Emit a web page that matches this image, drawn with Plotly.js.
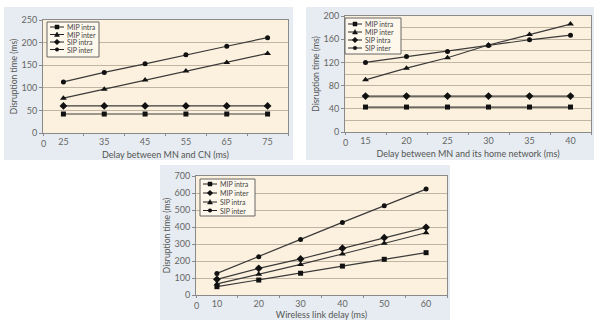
<!DOCTYPE html>
<html><head><meta charset="utf-8">
<script src="https://cdn.plot.ly/plotly-3.0.1.min.js"></script>
<style>
body{margin:0;background:#fff;width:594px;height:320px;position:relative;overflow:hidden}
.p{position:absolute}
</style></head><body>
<div id="c1" class="p" style="left:4px;top:7px;width:289px;height:153px"></div>
<div id="c2" class="p" style="left:306px;top:7px;width:288px;height:153px"></div>
<div id="c3" class="p" style="left:160px;top:165px;width:290px;height:155px"></div>
<script>
// ---- Data ----
const seriesNames = ['MIP intra', 'MIP inter', 'SIP intra', 'SIP inter'];
const yTitle = 'Disruption time (ms)';

// Chart 1: Delay between MN and CN
const delayCN = [25, 35, 45, 55, 65, 75];
const c1MipIntra = [42, 42, 42, 42, 42, 42];
const c1MipInter = [77, 97, 117, 137, 156, 176];
const c1SipIntra = [60, 60, 60, 60, 60, 60];
const c1SipInter = [113, 134, 153, 173, 192, 211];

// Chart 2: Delay between MN and its home network
const delayHome = [15, 20, 25, 30, 35, 40];
const c2MipIntra = [43, 43, 43, 43, 43, 43];
const c2MipInter = [90, 110, 128, 150, 168, 186];
const c2SipIntra = [62, 62, 62, 62, 62, 62];
const c2SipInter = [120, 130, 139, 149, 159, 167];

// Chart 3: Wireless link delay
const wirelessDelay = [10, 20, 30, 40, 50, 60];
const c3MipIntra = [49, 88, 128, 170, 210, 249];
const c3MipInter = [92, 157, 212, 275, 337, 398];
const c3SipIntra = [65, 122, 180, 241, 304, 366];
const c3SipInter = [127, 225, 327, 427, 525, 623];

const FONT = 'Lato, "Open Sans", sans-serif';
const BG = '#e6ecf1', PLOT = '#fcf1de', GRID = '#bfb5a2', AX = '#8a8a8a';

function drawPanel(id, o) {
  const W = o.w - o.m.l - o.m.r, H = o.h - o.m.t - o.m.b;
  const px = x => (x - o.m.l) / W;
  const py = y => 1 - (y - o.m.t) / H;
  const traces = o.series.map(s => ({
    type: 'scatter', mode: 'lines+markers', x: o.x, y: s.y, name: s.name,
    line: {color: '#3a3a3a', width: 1.2},
    marker: {symbol: s.symbol, size: s.size || 5, color: '#111'},
    showlegend: false, cliponaxis: false
  }));
  const shapes = [], annotations = [];
  const L = o.legend;
  shapes.push({type: 'rect', xref: 'paper', yref: 'paper', x0: px(L.x0), x1: px(L.x1),
    y0: py(L.y1), y1: py(L.y0), line: {color: '#666', width: 1}, fillcolor: '#fdf7ec', layer: 'above'});
  o.series.forEach((s, i) => {
    const yy = L.rows[i];
    shapes.push({type: 'line', xref: 'paper', yref: 'paper', x0: px(L.lx0), x1: px(L.lx1),
      y0: py(yy), y1: py(yy), line: {color: '#222', width: 1}, layer: 'above'});
    const cx = (L.lx0 + L.lx1) / 2, r = s.lr || 2;
    const base = {xref: 'paper', yref: 'paper', fillcolor: '#111', line: {color: '#111', width: 0.5}, layer: 'above'};
    if (s.symbol === 'square') {
      shapes.push(Object.assign({type: 'rect', x0: px(cx - r), x1: px(cx + r), y0: py(yy + r), y1: py(yy - r)}, base));
    } else if (s.symbol === 'circle') {
      shapes.push(Object.assign({type: 'circle', x0: px(cx - r), x1: px(cx + r), y0: py(yy + r), y1: py(yy - r)}, base));
    } else if (s.symbol === 'triangle-up') {
      shapes.push(Object.assign({type: 'path', path: `M${px(cx - r - 0.5)},${py(yy + r)} L${px(cx + r + 0.5)},${py(yy + r)} L${px(cx)},${py(yy - r - 0.5)} Z`}, base));
    } else {
      shapes.push(Object.assign({type: 'path', path: `M${px(cx - r - 0.6)},${py(yy)} L${px(cx)},${py(yy - r - 0.6)} L${px(cx + r + 0.6)},${py(yy)} L${px(cx)},${py(yy + r + 0.6)} Z`}, base));
    }
    annotations.push({xref: 'paper', yref: 'paper', x: px(L.tx), y: py(yy), xanchor: 'left', yanchor: 'middle',
      text: s.name, showarrow: false, borderpad: 0, font: {size: 7, color: '#444', family: FONT}});
  });
  // origin label "0" at the left end of the category axis
  annotations.push({xref: 'paper', yref: 'paper', x: 0, y: 0, xanchor: 'center', yanchor: 'top', yshift: -3,
    text: '0', showarrow: false, font: {size: 9, color: '#666', family: FONT}});

  const layout = {
    width: o.w, height: o.h,
    margin: o.m,
    paper_bgcolor: BG, plot_bgcolor: PLOT,
    font: {family: FONT, size: 9, color: '#666'},
    showlegend: false,
    xaxis: {
      type: 'category', range: [-0.5, o.x.length - 0.5], tickson: 'boundaries',
      ticks: 'outside', ticklen: 2, tickcolor: AX, showgrid: false,
      showline: true, linecolor: AX, linewidth: 1, mirror: true,
      tickfont: {size: 9, color: '#666'}, zeroline: false,
      title: {text: o.xTitle, font: {size: 9, color: '#555'}, standoff: o.xStandoff}
    },
    yaxis: {
      range: o.yRange, dtick: o.dtick, tick0: 0, ticks: 'outside', ticklen: 3, tickcolor: AX,
      showgrid: true, gridcolor: GRID, gridwidth: 1, zeroline: false,
      showline: true, linecolor: AX, linewidth: 1, mirror: true,
      tickfont: {size: 9, color: '#666'},
      minor: o.minor ? {dtick: o.minor, showgrid: true, gridcolor: GRID, gridwidth: 1, ticks: ''} : undefined,
      title: {text: yTitle, font: {size: 8.5, color: '#555'}, standoff: o.yStandoff}
    },
    shapes: shapes, annotations: annotations
  };
  Plotly.newPlot(id, traces, layout, {staticPlot: true, displayModeBar: false});
}

drawPanel('c1', {
  w: 289, h: 153, m: {l: 39, r: 5, t: 13, b: 27, pad: 0},
  x: delayCN, yRange: [0, 250], dtick: 50,
  xTitle: 'Delay between MN and CN (ms)', xStandoff: 5, yStandoff: 2,
  series: [
    {name: seriesNames[0], y: c1MipIntra, symbol: 'square', size: 5},
    {name: seriesNames[1], y: c1MipInter, symbol: 'triangle-up', size: 6},
    {name: seriesNames[2], y: c1SipIntra, symbol: 'diamond', size: 6, lr: 2.2},
    {name: seriesNames[3], y: c1SipInter, symbol: 'circle', size: 5, lr: 1.8}
  ],
  legend: {x0: 43, x1: 95, y0: 15, y1: 50, rows: [20, 27.5, 35, 42.5], lx0: 46, lx1: 60, tx: 62}
});

drawPanel('c2', {
  w: 288, h: 153, m: {l: 39, r: 3, t: 9, b: 28, pad: 0},
  x: delayHome, yRange: [0, 200], dtick: 40, minor: 20,
  xTitle: 'Delay between MN and its home network (ms)', xStandoff: 5, yStandoff: 2,
  series: [
    {name: seriesNames[0], y: c2MipIntra, symbol: 'square', size: 5},
    {name: seriesNames[1], y: c2MipInter, symbol: 'triangle-up', size: 6},
    {name: seriesNames[2], y: c2SipIntra, symbol: 'diamond', size: 6, lr: 2.2},
    {name: seriesNames[3], y: c2SipInter, symbol: 'circle', size: 5, lr: 1.8}
  ],
  legend: {x0: 39, x1: 95, y0: 11, y1: 47, rows: [17, 25, 33, 41], lx0: 42, lx1: 56, tx: 58}
});

drawPanel('c3', {
  w: 290, h: 155, m: {l: 36, r: 3, t: 11, b: 25, pad: 0},
  x: wirelessDelay, yRange: [0, 700], dtick: 100,
  xTitle: 'Wireless link delay (ms)', xStandoff: 2, yStandoff: 2,
  series: [
    {name: seriesNames[0], y: c3MipIntra, symbol: 'square', size: 5},
    {name: seriesNames[1], y: c3MipInter, symbol: 'diamond', size: 6, lr: 2.2},
    {name: seriesNames[2], y: c3SipIntra, symbol: 'triangle-up', size: 6},
    {name: seriesNames[3], y: c3SipInter, symbol: 'circle', size: 5, lr: 1.8}
  ],
  legend: {x0: 40, x1: 95, y0: 14, y1: 51, rows: [19, 28, 37, 45.5], lx0: 43, lx1: 57, tx: 59}
});
</script>
</body></html>
